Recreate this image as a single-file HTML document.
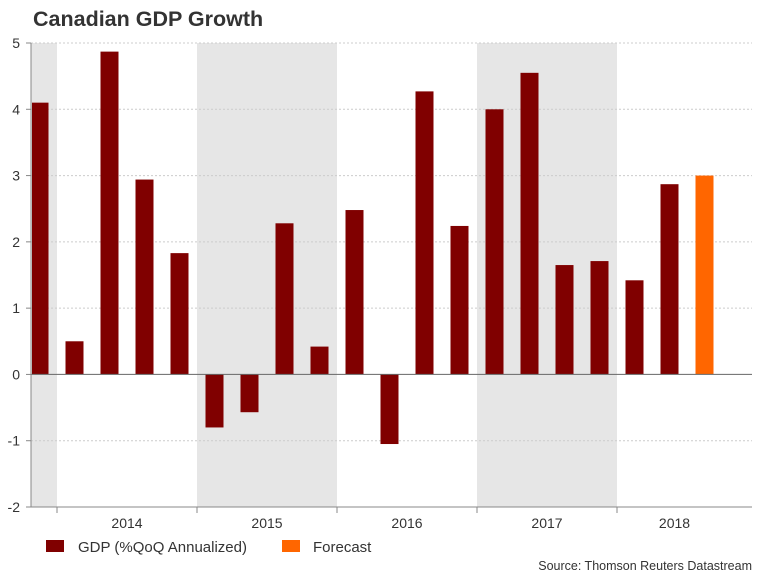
<!DOCTYPE html>
<html><head><meta charset="utf-8"><style>
body{margin:0;background:#fff;}
svg{display:block;font-family:"Liberation Sans",Arial,sans-serif;}
</style></head><body>
<svg id="c" width="768" height="576">
<text x="33" y="26" font-size="21.5" font-weight="bold" fill="#333">Canadian GDP Growth</text>
<g id="bands"></g><g id="grid"></g><g id="bars"></g><g id="axes"></g>
<g>
<rect x="46" y="540" width="18" height="12" fill="#800000"/>
<text x="78" y="552" font-size="15" fill="#333">GDP (%QoQ Annualized)</text>
<rect x="282" y="540" width="18" height="12" fill="#ff6600"/>
<text x="313" y="552" font-size="15" fill="#333">Forecast</text>
</g>
<text x="752" y="570" font-size="12.5" fill="#333" text-anchor="end">Source: Thomson Reuters Datastream</text>
</svg>
<script>
const values=[4.1,0.5,4.87,2.94,1.83,-0.8,-0.57,2.28,0.42,2.48,-1.05,4.27,2.24,4.0,4.55,1.65,1.71,1.42,2.87,3.0];
const isForecast=[0,0,0,0,0,0,0,0,0,0,0,0,0,0,0,0,0,0,0,1];
const years=["2014","2015","2016","2017","2018"];
const yTicks=[-2,-1,0,1,2,3,4,5];
const NS="http://www.w3.org/2000/svg";
const L=31,R=752,T=43,B=507,yMin=-2,yMax=5;
const y=v=>B-(v-yMin)/(yMax-yMin)*(B-T);
const step=35.0,first=39.5;
const x=i=>first+i*step;
function mk(tag,attrs,parent){const e=document.createElementNS(NS,tag);for(const k in attrs)e.setAttribute(k,attrs[k]);document.getElementById(parent).appendChild(e);return e;}
const bx=k=>x(1+4*k)-step/2;
[[-1],[1],[3]].forEach(([k])=>{
  const x0=Math.max(L,bx(k)),x1=Math.min(R,bx(k+1));
  const r=mk('rect',{x:x0,y:T,width:x1-x0,height:B-T,fill:'#e6e6e6'},'bands');
  
  
});
yTicks.forEach(t=>{
  if(t!==0&&t!==yMin){const g=mk('line',{x1:L,x2:R,y1:y(t),y2:y(t),stroke:'#ccc','stroke-dasharray':'2,2'},'grid');
  }
  const tk=mk('line',{x1:L-5,x2:L,y1:y(t),y2:y(t),stroke:'#888'},'axes');
  
  const lb=mk('text',{x:20,y:y(t)+5,'font-size':14,fill:'#333','text-anchor':'end'},'axes');
  lb.textContent=t;
  
});
values.forEach((v,i)=>{
  const w=18,cx=x(i);let x0=cx-w/2,x1=cx+w/2;x0=Math.max(x0,L+1);
  const r=mk('rect',{x:x0,y:Math.min(y(v),y(0)),width:x1-x0,height:Math.abs(y(v)-y(0)),fill:isForecast[i]?'#ff6600':'#800000'},'bars');
  
  
});
let a=mk('line',{x1:L,x2:R,y1:y(0),y2:y(0),stroke:'#666'},'axes');

a=mk('line',{x1:L,x2:L,y1:T,y2:B,stroke:'#888'},'axes');

a=mk('line',{x1:L,x2:R,y1:B,y2:B,stroke:'#888'},'axes');

years.forEach((yr,k)=>{
  const t=mk('line',{x1:bx(k),x2:bx(k),y1:B,y2:B+6,stroke:'#888'},'axes');
  
  const lb=mk('text',{x:(bx(k)+Math.min(R,bx(k+1)))/2+(k===4?-10:0),y:528,'font-size':14,fill:'#333','text-anchor':'middle'},'axes');
  lb.textContent=yr;
  
});
</script>
</body></html>
